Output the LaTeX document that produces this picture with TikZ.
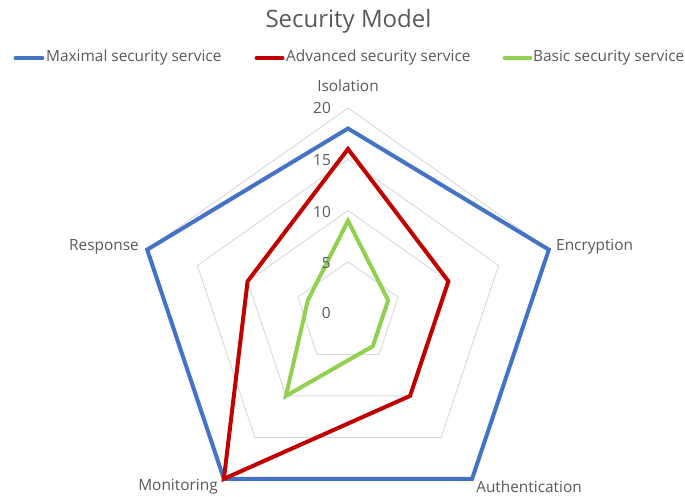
\documentclass[tikz,border=0pt]{standalone}
\usepackage{fontspec}
\setmainfont{Open Sans}
\definecolor{maxblue}{HTML}{4472C4}
\definecolor{advred}{HTML}{C00000}
\definecolor{basgreen}{HTML}{92D050}
\definecolor{ringgray}{HTML}{D9D9D9}
\definecolor{txtgray}{HTML}{595959}
\begin{document}
\begin{tikzpicture}[x=1pt,y=1pt,
  font=\fontsize{15.4}{18}\selectfont, text=txtgray,
  ring/.style={draw=ringgray, line width=0.9pt},
  series/.style={line width=4pt},
  legline/.style={line width=3.8pt, line cap=round},
  lbl/.style={inner sep=0pt},
]
\useasboundingbox (0,0) rectangle (685,496);
\coordinate (C) at (348,183);

\begin{scope}[shift={(C)}, xscale=1.03]
% grid rings at 5, 10, 15, 20
\foreach \r in {51.25,102.5,153.75,205}{
  \draw[ring] (90:\r pt) -- (18:\r pt) -- (-54:\r pt)
    -- (-126:\r pt) -- (162:\r pt) -- cycle;
}
% data series (10.25pt per unit)
\draw[series,maxblue] (90:184.5pt) -- (18:205pt) -- (-54:205pt)
  -- (-126:205pt) -- (162:205pt) -- cycle;
\draw[series,advred] (90:164pt) -- (18:102.5pt) -- (-54:102.5pt)
  -- (-126:205pt) -- (162:102.5pt) -- cycle;
\draw[series,basgreen] (90:92.25pt) -- (18:41pt) -- (-54:41pt)
  -- (-126:102.5pt) -- (162:41pt) -- cycle;
\end{scope}

% scale values
\node[lbl,anchor=east] (v20) at (331,388) {20};
\node[lbl,anchor=east] (v15) at (331,336) {15};
\node[lbl,anchor=east] (v10) at (331,284) {10};
\node[lbl,anchor=east] (v5)  at (331,233) {5};
\node[lbl,anchor=east] (v0)  at (331,183) {0};

% axis names
\node[lbl] (iso) at (348,410) {Isolation};
\node[lbl,anchor=west] (enc) at (556,249) {Encryption};
\node[lbl] (auth) at (529,9) {Authentication};
\node[lbl] (mon) at (178,9) {Monitoring};
\node[lbl,anchor=east] (resp) at (139,249) {Response};

% title
\node[lbl,font=\fontsize{24}{28}\selectfont] (title) at (348.5,475) {Security Model};

% legend
\draw[legline,maxblue] (15.5,438) -- (42.5,438);
\node[lbl,anchor=west] (lmax) at (46,438) {Maximal security service};
\draw[legline,advred] (256.5,438) -- (282.5,438);
\node[lbl,anchor=west] (ladv) at (286,438) {Advanced security service};
\draw[legline,basgreen] (504.5,438) -- (530.5,438);
\node[lbl,anchor=west] (lbas) at (533,438) {Basic security service};
\end{tikzpicture}
\end{document}
